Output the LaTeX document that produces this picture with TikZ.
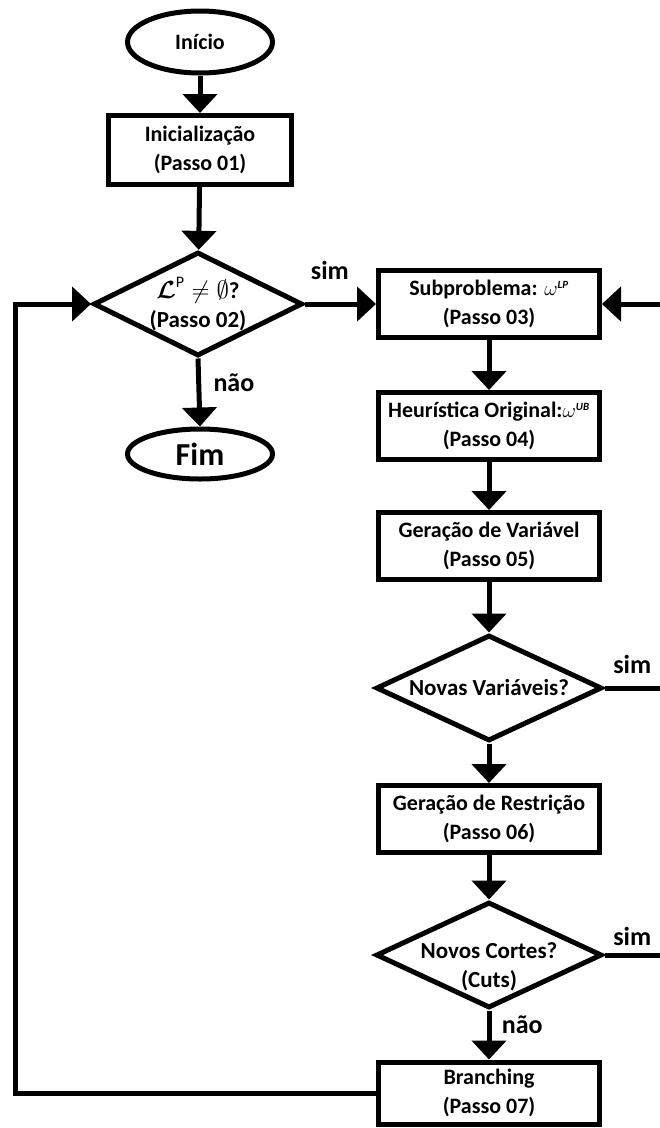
\documentclass[tikz,border=0pt]{standalone}
\usepackage{amsmath}
\usepackage{bm}
\usepackage{fontspec}
\setmainfont{Carlito}
\usetikzlibrary{shapes.geometric,arrows.meta}

\newcommand{\indice}[1]{\mbox{\fontsize{11}{11}\selectfont\itshape #1}}

\tikzset{
  passo/.style={draw, rectangle, line width=5pt, minimum width=221pt,
    minimum height=67pt, align=center, inner sep=2pt},
  terminal/.style={draw, ellipse, line width=5pt, minimum width=145pt,
    minimum height=62pt, inner sep=0pt},
  decisao/.style={draw, diamond, aspect=2, line width=5pt, inner sep=-8pt,
    minimum width=226pt, minimum height=106pt, align=center,
    font=\bfseries\fontsize{23}{29}\selectfont},
  seta/.style={-{Triangle[length=19pt,width=34pt]}, line width=5pt},
  rotulo/.style={font=\bfseries\fontsize{26}{26}\selectfont}
}

\begin{document}
\begin{tikzpicture}[x=1pt, y=-1pt, line width=5pt,
    font=\bfseries\fontsize{22}{29}\selectfont]
%%   kw   (name)   (x, y)   {text}
    \useasboundingbox (0,0) rectangle (660,1128);
    \node[terminal] (inicio) at (200,42) {Início};
    \node[passo, minimum width=183pt, minimum height=69pt] (passo1) at (200,150) {Inicialização\\(Passo 01)};
    \node[decisao, minimum width=209pt, minimum height=104pt] (passo2) at (198,304) {$\boldsymbol{\mathcal{L}}^{\mathrm{P}}\neq\emptyset$?\\(Passo 02)};
    \node[terminal, minimum height=50pt, font=\bfseries\fontsize{32}{32}\selectfont] (fim) at (200,454) {Fim};

    \node[passo] (passo3) at (489,304) {Subproblema: $\omega^{\indice{LP}}$\\(Passo 03)};
    \node[passo] (passo4) at (489,426) {Heurística Original:$\omega^{\indice{UB}}$\\(Passo 04)};
    \node[passo] (passo5) at (489,546) {Geração de Variável\\(Passo 05)};
    \node[decisao] (novasvar) at (489,688) {Novas Variáveis?};
    \node[passo] (passo6) at (489,819) {Geração de Restrição\\(Passo 06)};
    \node[decisao, inner sep=0pt] (novoscortes) at (489,955) {};
    \node[align=center, font=\bfseries\fontsize{23}{29}\selectfont] (cortes) at (489,967) {Novos Cortes?\\(Cuts)};
    \node[passo, minimum height=62pt] (passo7) at (489,1093) {Branching\\(Passo 07)};

    \coordinate (dirpasso3) at (660,304);
    \coordinate (dirnovasvar) at (660,688);
    \coordinate (dirnovoscortes) at (660,955);
    \coordinate (esqbaixo) at (15,1093);
    \coordinate (esqcima) at (15,304);

    \draw[seta] (inicio) -- (passo1);
    \draw[seta] (passo1) -- (passo2);
    \draw[seta] (passo2.east) -- node[rotulo, above=18pt, pos=0.35] {sim} (passo3.west);
    \draw[seta] (passo2.south) -- node[rotulo, right=9pt, pos=0.35] {não} (fim.north);
    \draw[seta] (dirpasso3) -- (passo3.east);
    \draw[seta] (passo3) -- (passo4);
    \draw[seta] (passo4) -- (passo5);
    \draw[seta] (passo5) -- (novasvar);
    \draw (novasvar.east) -- node[rotulo, above=8pt] {sim} (dirnovasvar);
    \draw[seta] (novasvar) -- (passo6);
    \draw[seta] (passo6) -- (novoscortes);
    \draw (novoscortes.east) -- node[rotulo, above=3pt] {sim} (dirnovoscortes);
    \draw[seta] (novoscortes.south) -- node[rotulo, right=7pt, pos=0.28] {não} (passo7.north);
    \draw[seta] (passo7.west) -- (esqbaixo) -- (esqcima) -- (passo2.west);
\end{tikzpicture}
\end{document}
